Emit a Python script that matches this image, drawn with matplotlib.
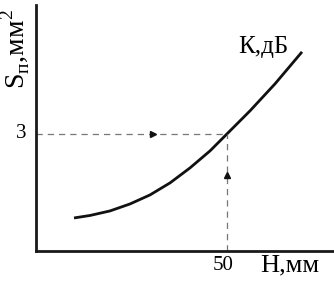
import matplotlib
matplotlib.use("Agg")
import matplotlib.pyplot as plt

# data (H in mm, S in mm^2)
curve_h = [9.95, 14.14, 19.37, 24.61, 29.84, 35.08, 40.31, 45.55, 50.0, 56.02, 62.57, 69.63]
curve_s = [0.846, 0.910, 1.026, 1.205, 1.436, 1.744, 2.128, 2.564, 3.0, 3.590, 4.282, 5.100]
point_h = 50
point_s = 3
xtick_labels = ["50"]
ytick_labels = ["3"]
curve_label = "К,дБ"

plt.rcParams['font.family'] = ['Liberation Serif', 'DejaVu Serif']

fig = plt.figure(figsize=(3.34, 2.86), dpi=100)
W, H = 334, 286
x0, y0 = 36, 251
ax = fig.add_axes([x0 / W, (H - y0) / H, (W - x0) / W, (y0 - 5) / H])
ax.set_xlim(0, 78)
ax.set_ylim(0, 6.3)
for s in ['top', 'right']:
    ax.spines[s].set_visible(False)
for s in ['left', 'bottom']:
    ax.spines[s].set_linewidth(2.0)
    ax.spines[s].set_color('#1a1a1a')
ax.set_xticks([])
ax.set_yticks([])

ax.plot(curve_h, curve_s, color='#111111', lw=2.0, solid_capstyle='butt',
        solid_joinstyle='round')
ax.plot([0, point_h], [point_s, point_s], color='#777777', lw=0.9, dashes=(5, 4))
ax.plot([point_h, point_h], [0, point_s], color='#777777', lw=0.9, dashes=(5, 4))

ax.plot([30.6], [point_s], marker='>', color='#111111', markersize=4.5, clip_on=False)
ax.plot([point_h], [1.95], marker='^', color='#111111', markersize=4.5, clip_on=False)

ax.text(point_h - 1.0, -0.12, xtick_labels[0], ha='center', va='top', fontsize=15)
ax.text(-2.5, point_s, ytick_labels[0], ha='right', va='center', fontsize=15)
ax.text(59.5, 4.95, curve_label, ha='center', va='bottom', fontsize=18)
ax.text(58.8, -0.1, "Н,мм", ha='left', va='top', fontsize=19)
ax.text(-5.4, 6.2, r"S$_{\mathregular{п}}$,мм$^{\mathregular{2}}$", rotation=90,
        ha='center', va='top', fontsize=20)

fig.savefig("out.png", dpi=100)
